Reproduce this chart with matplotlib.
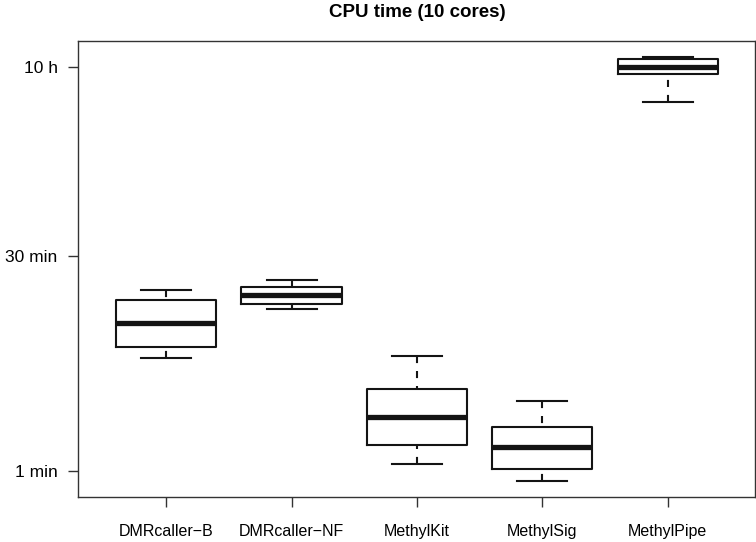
import matplotlib
matplotlib.use('Agg')
import matplotlib.pyplot as plt
from matplotlib.ticker import NullLocator

plt.rcParams['font.family'] = ['Liberation Sans', 'DejaVu Sans']

# CPU time in minutes
tools = ['DMRcaller\u2212B', 'DMRcaller\u2212NF', 'MethylKit', 'MethylSig', 'MethylPipe']
whislo = [6.0, 13.0, 1.12, 0.86, 345]
q1 = [7.15, 14.1, 1.51, 1.04, 533]
med = [10.4, 16.1, 2.35, 1.46, 601]
q3 = [15.0, 18.3, 3.68, 2.0, 679]
whishi = [17.6, 20.5, 6.14, 3.03, 704]

ytick_vals = [1, 30, 600]
ytick_labels = ['1 min', '30 min', '10 h']

fig = plt.figure(figsize=(7.56, 5.42), dpi=100)
ax = fig.add_axes([0.1038, 0.083, 0.8955, 0.8419])

stats = []
for t, a, b, c, d, e in zip(tools, whislo, q1, med, q3, whishi):
    stats.append(dict(label=t, whislo=a, q1=b, med=c, q3=d, whishi=e))

ink = '#141414'
bp = ax.bxp(stats, positions=range(1, len(tools) + 1), widths=0.8, capwidths=0.4,
            showfliers=False,
            boxprops=dict(color=ink, lw=1.5),
            medianprops=dict(color=ink, lw=3.8, solid_capstyle='butt'),
            whiskerprops=dict(color=ink, lw=1.5, linestyle=(0, (3.4, 3.8))),
            capprops=dict(color=ink, lw=1.5))

# R draws the dashed whisker starting from the cap
for w in bp['whiskers']:
    w.set_ydata(w.get_ydata()[::-1])

ax.set_yscale('log')
ax.set_ylim(0.663, 906)
ax.set_xlim(0.3, 5.7)
ax.set_yticks(ytick_vals, labels=ytick_labels)
ax.yaxis.set_minor_locator(NullLocator())

for s in ax.spines.values():
    s.set_color('#333333')
    s.set_linewidth(1.0)

ax.tick_params(axis='y', length=7.3, width=1.0, color='#333333', pad=7.7, labelsize=12.5)
ax.tick_params(axis='x', length=7.5, width=1.0, color='#333333', pad=12, labelsize=11.5)

ax.set_title('CPU time (10 cores)', fontweight='bold', fontsize=13.5, pad=17)

fig.savefig('out.png', dpi=100)
